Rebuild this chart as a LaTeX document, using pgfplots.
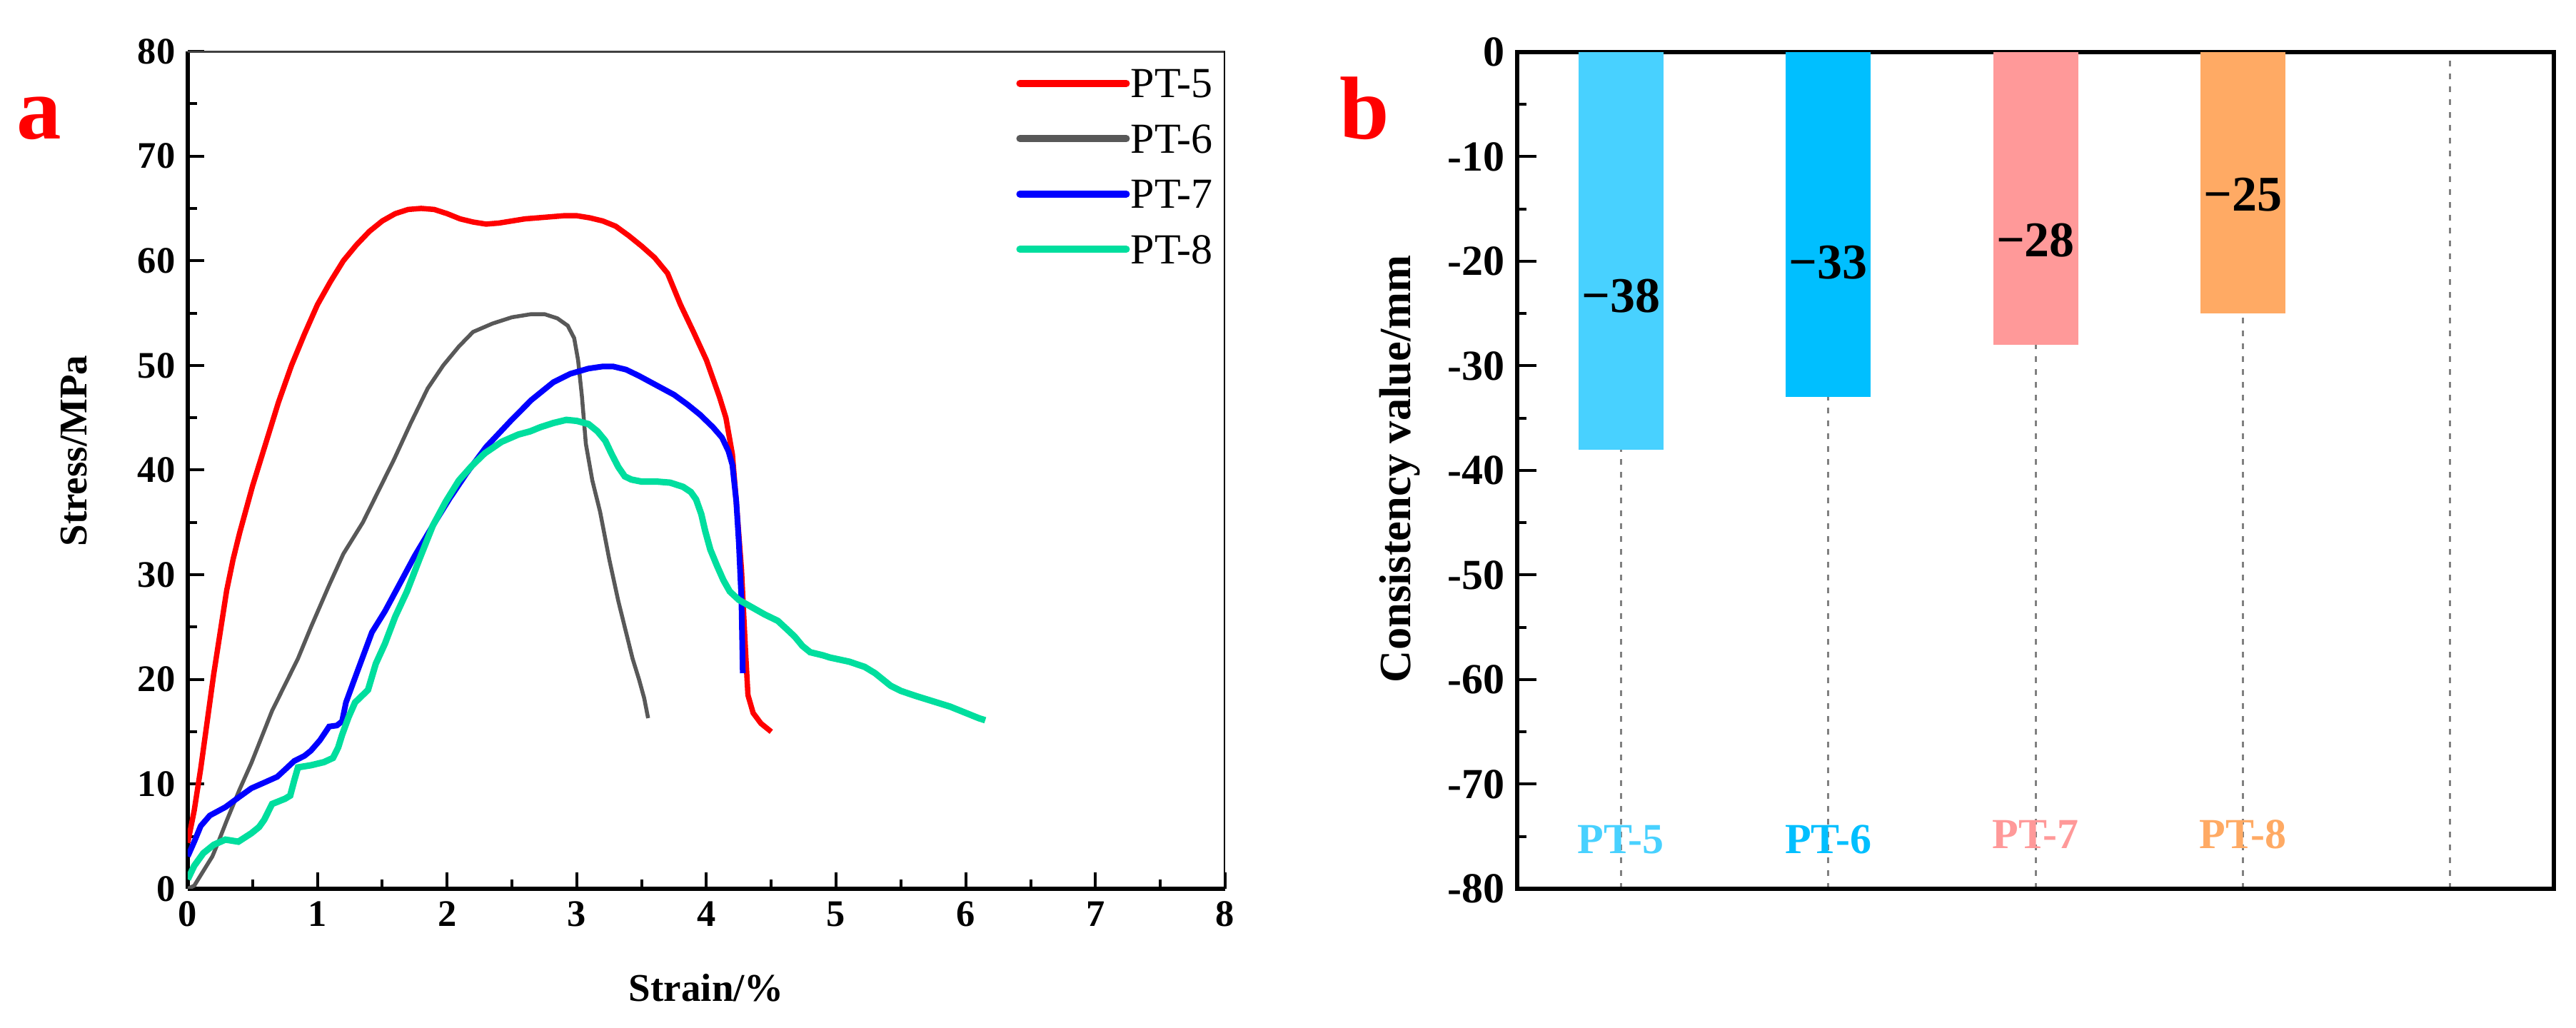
\documentclass[border=0pt]{standalone}
\usepackage{fontspec}
\setmainfont{Liberation Serif}
\usepackage{pgfplots}
\pgfplotsset{compat=1.18}
\definecolor{cRed}{RGB}{255,0,0}
\definecolor{cGray}{RGB}{88,88,88}
\definecolor{cBlue}{RGB}{0,0,255}
\definecolor{cGreen}{RGB}{0,222,158}
\definecolor{b5}{RGB}{72,209,255}
\definecolor{b6}{RGB}{0,191,255}
\definecolor{b7}{RGB}{255,153,153}
\definecolor{b8}{RGB}{255,170,100}
\begin{document}
\begin{tikzpicture}
\path[use as bounding box] (0,0) rectangle (721.6pt,288pt);
\node[text=red, font=\fontsize{25}{25}\selectfont\bfseries, anchor=base] at (11pt,249pt) {a};
\node[text=red, font=\fontsize{25}{25}\selectfont\bfseries, anchor=base] at (382.2pt,249pt) {b};
\begin{axis}[
 at={(52.6pt,39pt)}, anchor=south west, scale only axis,
 width=290.6pt, height=234.6pt,
 xmin=0, xmax=8, ymin=0, ymax=80,
 axis x line*=bottom, axis y line*=left,
 axis line style={line width=1.3pt},
 xtick={0,...,8}, ytick={0,10,...,80},
 minor x tick num=1, minor y tick num=1,
 tick align=inside,
 major tick length=4.6pt, minor tick length=2.6pt,
 every tick/.style={black, line width=0.8pt},
 /pgf/number format/assume math mode=true,
 ticklabel style={font=\fontsize{10.5}{12}\selectfont\bfseries},
 xlabel={Strain/\%}, ylabel={Stress/MPa},
 label style={font=\fontsize{11}{13}\selectfont\bfseries},
 xlabel style={at={(axis description cs:0.5,-0.118)}, anchor=center},
 ylabel style={at={(axis description cs:-0.110,0.523)}, anchor=center},
 legend style={at={(rel axis cs:0.798,0.984)}, anchor=north west, draw=none, fill=none,
   inner sep=0pt, row sep=5.5pt, font=\fontsize{12}{12}\selectfont,
   nodes={inner xsep=0.3pt, inner ysep=1pt, text height=8pt, text depth=0pt}},
 legend cell align=left,
 legend image code/.code={\draw[#1, line width=2pt, line cap=round] (0pt,0pt) -- (29.8pt,0pt);},
]
\addplot[cRed, line width=1.5pt] table {
0 4.4
0.05 7.5
0.1 11.5
0.15 16
0.2 20.5
0.25 24.5
0.3 28.5
0.35 31.5
0.4 34
0.5 38.5
0.6 42.5
0.7 46.5
0.8 50
0.9 53
1.0 55.8
1.1 58
1.2 60
1.3 61.5
1.4 62.8
1.5 63.8
1.6 64.5
1.7 64.9
1.8 65.0
1.9 64.9
2.0 64.5
2.1 64.0
2.2 63.7
2.3 63.5
2.4 63.6
2.5 63.8
2.6 64.0
2.7 64.1
2.8 64.2
2.9 64.3
3.0 64.3
3.1 64.1
3.2 63.8
3.3 63.3
3.4 62.4
3.5 61.4
3.6 60.3
3.7 58.8
3.8 55.8
3.9 53.2
4.0 50.5
4.1 47
4.15 45
4.2 41.5
4.23 37
4.27 30.5
4.3 23
4.32 18.5
4.36 16.8
4.42 15.8
4.5 15
};
\addlegendentry{PT-5}
\addplot[cGray, line width=1.1pt] table {
0 0
0.05 0.3
0.11 1.5
0.19 3.1
0.24 4.6
0.3 6.5
0.4 9.5
0.49 12
0.57 14.5
0.65 17
0.75 19.5
0.85 22
0.95 25
1.09 29
1.2 32
1.35 35
1.47 38
1.59 41
1.72 44.5
1.85 47.8
1.97 50
2.09 51.8
2.2 53.2
2.35 54
2.5 54.6
2.65 54.9
2.75 54.9
2.85 54.5
2.93 53.8
2.98 52.6
3.01 50.5
3.04 47
3.07 42.5
3.12 39
3.18 36
3.25 31.5
3.32 27.5
3.38 24.5
3.43 22
3.48 20
3.52 18.2
3.55 16.3
};
\addlegendentry{PT-6}
\addplot[cBlue, line width=1.6pt] table {
0 3.1
0.05 4.5
0.1 6
0.17 7
0.29 7.8
0.4 8.8
0.49 9.6
0.6 10.2
0.69 10.7
0.76 11.5
0.82 12.2
0.9 12.7
0.95 13.2
1.02 14.2
1.09 15.5
1.15 15.6
1.19 16
1.22 17.8
1.3 20.5
1.42 24.5
1.52 26.5
1.62 28.8
1.75 31.8
1.89 34.7
2.02 37.3
2.15 39.7
2.3 42.2
2.49 44.7
2.65 46.7
2.82 48.4
2.95 49.2
3.09 49.7
3.2 49.9
3.28 49.9
3.38 49.6
3.48 49
3.6 48.2
3.75 47.2
3.85 46.3
3.95 45.3
4.05 44.1
4.12 43.1
4.17 41.8
4.2 40.5
4.23 37
4.25 33
4.27 27.5
4.28 20.6
};
\addlegendentry{PT-7}
\addplot[cGreen, line width=1.8pt] table {
0 0.9
0.05 2.2
0.12 3.4
0.2 4.2
0.29 4.7
0.39 4.5
0.49 5.3
0.55 5.9
0.59 6.6
0.65 8.1
0.75 8.6
0.79 8.9
0.82 10.3
0.85 11.6
0.95 11.8
1.05 12.1
1.12 12.5
1.16 13.5
1.19 14.7
1.24 16.4
1.29 17.8
1.34 18.4
1.39 19
1.45 21.5
1.52 23.4
1.6 26
1.69 28.4
1.79 31.6
1.89 34.7
1.99 37
2.09 39
2.19 40.4
2.29 41.6
2.42 42.7
2.55 43.4
2.64 43.7
2.72 44.1
2.82 44.5
2.92 44.8
3.0 44.7
3.09 44.4
3.16 43.7
3.22 42.8
3.27 41.5
3.32 40.3
3.37 39.4
3.42 39.1
3.5 38.9
3.62 38.9
3.72 38.8
3.82 38.4
3.88 37.9
3.92 37.2
3.96 35.8
3.99 34.2
4.03 32.4
4.08 30.9
4.13 29.5
4.18 28.4
4.25 27.6
4.35 26.9
4.45 26.2
4.55 25.6
4.62 24.8
4.68 24.1
4.74 23.2
4.8 22.6
4.9 22.3
4.95 22.1
5.1 21.7
5.22 21.2
5.3 20.6
5.36 20
5.42 19.4
5.5 18.9
5.62 18.4
5.75 17.9
5.88 17.4
6.0 16.8
6.1 16.3
6.15 16.1
};
\addlegendentry{PT-8}
\draw[line width=0.8pt, black!75] (rel axis cs:0,1) -- (rel axis cs:1,1);
\draw[line width=0.7pt, black] (rel axis cs:1,1) -- (rel axis cs:1,0);
\end{axis}
\begin{axis}[
 at={(425pt,39pt)}, anchor=south west, scale only axis,
 width=290.4pt, height=234.4pt,
 xmin=0.5, xmax=5.5, ymin=-80, ymax=0,
 axis line style={line width=1.2pt},
 xtick={1,...,5}, xticklabels={}, xmajorgrids,
 major x grid style={gray, line width=0.6pt, dash pattern=on 1.6pt off 2pt},
 x tick style={draw=none},
 ytick={-80,-70,-60,-50,-40,-30,-20,-10,0},
 yticklabels={-80,-70,-60,-50,-40,-30,-20,-10,0},
 minor y tick num=1, ytick pos=left,
 tick align=inside,
 major tick length=5.4pt, minor tick length=2.6pt,
 y tick style={black, line width=0.8pt},
 yticklabel style={font=\fontsize{12}{13}\selectfont\bfseries},
 ylabel={Consistency value/mm},
 ylabel style={font=\fontsize{12.5}{14}\selectfont\bfseries, at={(axis description cs:-0.1136,0.502)}, anchor=center},
]
\addplot[ybar, bar width=23.8pt, bar shift=0pt, fill=b5, draw=none] coordinates {(1,-38)};
\addplot[ybar, bar width=23.8pt, bar shift=0pt, fill=b6, draw=none] coordinates {(2,-33)};
\addplot[ybar, bar width=23.8pt, bar shift=0pt, fill=b7, draw=none] coordinates {(3,-28)};
\addplot[ybar, bar width=23.8pt, bar shift=0pt, fill=b8, draw=none] coordinates {(4,-25)};
\node[font=\fontsize{14}{14}\selectfont\bfseries] at (axis cs:1,-23.3) {−38};
\node[font=\fontsize{14}{14}\selectfont\bfseries] at (axis cs:2,-20.1) {−33};
\node[font=\fontsize{14}{14}\selectfont\bfseries] at (axis cs:3,-18.0) {−28};
\node[font=\fontsize{14}{14}\selectfont\bfseries] at (axis cs:4,-13.6) {−25};
\node[text=b5, font=\fontsize{12}{12}\selectfont\bfseries] at (axis cs:1,-75.3) {PT-5};
\node[text=b6, font=\fontsize{12}{12}\selectfont\bfseries] at (axis cs:2,-75.3) {PT-6};
\node[text=b7, font=\fontsize{12}{12}\selectfont\bfseries] at (axis cs:3,-74.8) {PT-7};
\node[text=b8, font=\fontsize{12}{12}\selectfont\bfseries] at (axis cs:4,-74.8) {PT-8};
\end{axis}
\end{tikzpicture}
\end{document}
